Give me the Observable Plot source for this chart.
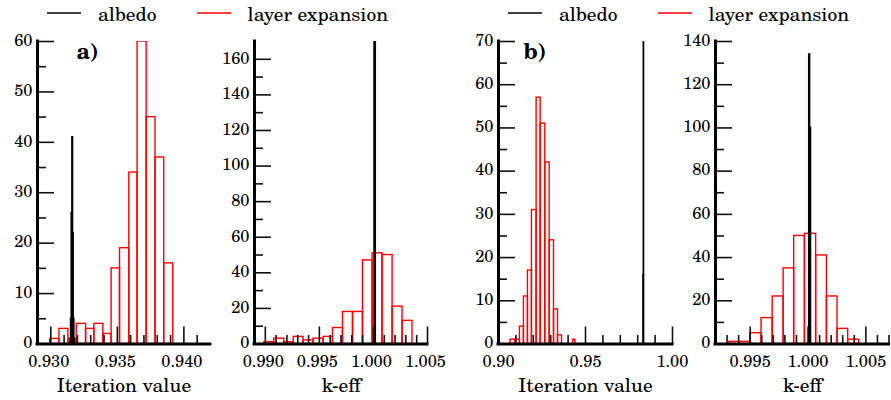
<!DOCTYPE html>
<html>
<head>
<meta charset="utf-8">
<script src="https://cdn.jsdelivr.net/npm/d3@7"></script>
<script src="https://cdn.jsdelivr.net/npm/@observablehq/plot@0.6"></script>
<style>
  body { margin: 0; background: #fff; }
  #chart { position: relative; width: 891px; height: 400px;
           font-family: "C059", "Century Schoolbook L", "TeX Gyre Schola", "DejaVu Serif", serif; color: #000; }
  .panel { position: absolute; top: 28px; }
  .legend { position: absolute; top: 3px; height: 20px; display: flex; align-items: center;
            font-size: 19.5px; line-height: 20px; white-space: nowrap; }
  .legend svg { display: block; margin-right: 17px; }
  .legend .name { margin-right: 40px; }
</style>
</head>
<body>
<div id="chart"></div>
<script>
// Series shown in both legends
const seriesNames = ["albedo", "layer expansion"];
const seriesColors = ["#000", "#f00"];

// ---- Panel a) : iteration value histogram ----
const a1LayerEdges = [0.92995, 0.93065, 0.93132, 0.93195, 0.93265, 0.93327, 0.93395, 0.93457,
                      0.93520, 0.93590, 0.93652, 0.93720, 0.93787, 0.93852, 0.93920];
const a1LayerCounts = [1, 3, 1, 4, 3, 4, 2, 15, 19, 34, 60, 45, 37, 16];
const a1AlbedoEdges = [0.93147, 0.93152, 0.93157, 0.93162, 0.93167, 0.93172, 0.93177, 0.93182];
const a1AlbedoCounts = [1, 5, 26, 41, 22, 5, 1];
const a1XMajor = [0.930, 0.935, 0.940];
const a1XMinor = [0.929, 0.931, 0.932, 0.933, 0.934, 0.936, 0.937, 0.938, 0.939, 0.941];
const a1YMajor = [0, 10, 20, 30, 40, 50, 60];
const a1YMinor = [5, 15, 25, 35, 45, 55];

// ---- Panel a) : k-eff histogram ----
const a2LayerEdges = [0.98991, 0.99083, 0.99176, 0.99262, 0.99354, 0.99446, 0.99539, 0.99626,
                      0.99718, 0.99811, 0.99903, 0.99992, 1.00084, 1.00177, 1.00269, 1.00361];
const a2LayerCounts = [1, 3, 1, 4, 2, 3, 4, 9, 18, 18, 47, 51, 50, 21, 13];
const a2AlbedoEdges = [1.00010, 1.00022];
const a2AlbedoCounts = [250];
const a2XMajor = [0.990, 0.995, 1.000, 1.005];
const a2XMinor = [0.989, 0.991, 0.992, 0.993, 0.994, 0.996, 0.997, 0.998, 0.999,
                  1.001, 1.002, 1.003, 1.004];
const a2YMajor = [0, 20, 40, 60, 80, 100, 120, 140, 160];
const a2YMinor = [10, 30, 50, 70, 90, 110, 130, 150];

// ---- Panel b) : iteration value histogram ----
const b1LayerEdges = [0.90692, 0.90980, 0.91230, 0.91460, 0.91691, 0.91921, 0.92190, 0.92421,
                      0.92690, 0.92940, 0.93190, 0.93420, 0.93650, 0.94300, 0.94420];
const b1LayerCounts = [1, 1, 4, 11, 17, 31, 57, 51, 42, 24, 8, 2, 0, 1];
const b1AlbedoEdges = [0.98335, 0.98350, 0.98365];
const b1AlbedoCounts = [16, 234];
const b1XMajor = [0.90, 0.95, 1.00];
const b1XMinor = [0.91, 0.92, 0.93, 0.94, 0.96, 0.97, 0.98, 0.99];
const b1YMajor = [0, 10, 20, 30, 40, 50, 60, 70];
const b1YMinor = [5, 15, 25, 35, 45, 55, 65];

// ---- Panel b) : k-eff histogram ----
const b2LayerEdges = [0.99318, 0.99411, 0.99500, 0.99598, 0.99694, 0.99789, 0.99880,
                      0.99973, 1.00070, 1.00163, 1.00255, 1.00347, 1.00442];
const b2LayerCounts = [1, 1, 5, 12, 22, 35, 50, 51, 41, 22, 7, 2];
const b2AlbedoEdges = [1.00010, 1.00018, 1.00026];
const b2AlbedoCounts = [134, 100];
const b2XMajor = [0.995, 1.000, 1.005];
const b2XMinor = [0.993, 0.994, 0.996, 0.997, 0.998, 0.999, 1.001, 1.002, 1.003, 1.004, 1.006, 1.007];
const b2YMajor = [0, 20, 40, 60, 80, 100, 120, 140];
const b2YMinor = [10, 30, 50, 70, 90, 110, 130];

const FONT = '"C059", "Century Schoolbook L", "TeX Gyre Schola", "DejaVu Serif", serif';
const chart = document.getElementById("chart");

function bins(edges, counts) {
  return counts.map((n, i) => ({x1: edges[i], x2: edges[i + 1], n}));
}

function panel(o) {
  const height = 372, mt = 13, mb = 56.5;
  const fw = o.width - o.ml - o.mr, fh = height - mt - mb;
  const tick = {stroke: "#111", strokeWidth: 1.6};
  const fmt = d3.format(o.xFormat);
  const svg = Plot.plot({
    width: o.width, height,
    marginLeft: o.ml, marginRight: o.mr, marginTop: mt, marginBottom: mb,
    x: {domain: o.xDomain, axis: null},
    y: {domain: o.yDomain, axis: null},
    style: {fontFamily: FONT, fontSize: "16.5px", background: "transparent", overflow: "visible", color: "#000"},
    marks: [
      Plot.rectY(bins(o.layerEdges, o.layerCounts),
        {x1: "x1", x2: "x2", y1: 0, y2: "n", fill: "none", stroke: seriesColors[1], strokeWidth: 1.4, clip: true}),
      Plot.rectY(bins(o.albedoEdges, o.albedoCounts),
        {x1: "x1", x2: "x2", y1: 0, y2: "n", fill: "none", stroke: seriesColors[0], strokeWidth: 1.5, clip: true}),
      // inward tick marks
      Plot.ruleX(o.xMinor, {x: d => d, insetTop: fh - 8.5, ...tick}),
      Plot.ruleX(o.xMajor, {x: d => d, insetTop: fh - 17, ...tick}),
      Plot.ruleY(o.yMinor, {y: d => d, insetRight: fw - 9, ...tick}),
      Plot.ruleY(o.yMajor, {y: d => d, insetRight: fw - 17, ...tick}),
      // axis lines
      Plot.ruleY([o.yDomain[0]], {stroke: "#000", strokeWidth: 3, strokeLinecap: "square"}),
      Plot.ruleX([o.xDomain[0]], {stroke: "#000", strokeWidth: 3, strokeLinecap: "square"}),
      // tick labels
      Plot.text(o.xMajor, {x: d => d, text: d => fmt(d), frameAnchor: "bottom", lineAnchor: "top",
                           dx: o.labelDx || 0, dy: 11.5, fontSize: 16.5, fill: "#000"}),
      Plot.text(o.yMajor, {y: d => d, text: d => String(d), frameAnchor: "left", textAnchor: "end",
                           dx: -5, dy: -1, fontSize: 16.5, fill: "#000"}),
      // axis title
      Plot.text([o.title], {frameAnchor: "bottom", lineAnchor: "bottom", dy: 47.8, fontSize: 19.5, fill: "#000"}),
      // panel tag
      o.tag ? Plot.text([o.tag], {frameAnchor: "top-left", textAnchor: "start", lineAnchor: "top", dx: o.tagDx, dy: 2,
                                  fontSize: 22, fontWeight: "bold", fill: "#000"}) : null
    ]
  });
  const div = document.createElement("div");
  div.className = "panel";
  div.style.left = o.left + "px";
  div.appendChild(svg);
  chart.appendChild(div);
}

function legend(left) {
  const ns = "http://www.w3.org/2000/svg";
  const div = document.createElement("div");
  div.className = "legend";
  div.style.left = left + "px";
  seriesNames.forEach((name, i) => {
    const sw = document.createElementNS(ns, "svg");
    sw.setAttribute("width", 34);
    sw.setAttribute("height", 20);
    const line = document.createElementNS(ns, "line");
    line.setAttribute("x1", 0); line.setAttribute("x2", 34);
    line.setAttribute("y1", 10); line.setAttribute("y2", 10);
    line.setAttribute("stroke", seriesColors[i]);
    line.setAttribute("stroke-width", 1.6);
    sw.appendChild(line);
    const label = document.createElement("span");
    label.className = "name";
    label.textContent = name;
    div.appendChild(sw);
    div.appendChild(label);
  });
  chart.appendChild(div);
}

legend(47);
legend(508);

panel({left: 0, width: 215, ml: 37, mr: 5, xDomain: [0.929, 0.942], yDomain: [0, 60],
       xMajor: a1XMajor, xMinor: a1XMinor, yMajor: a1YMajor, yMinor: a1YMinor, xFormat: ".3f", labelDx: -2,
       layerEdges: a1LayerEdges, layerCounts: a1LayerCounts, albedoEdges: a1AlbedoEdges, albedoCounts: a1AlbedoCounts,
       title: "Iteration value", tag: "a)", tagDx: 39});
panel({left: 215, width: 230, ml: 39, mr: 18, xDomain: [0.989, 1.005], yDomain: [0, 170],
       xMajor: a2XMajor, xMinor: a2XMinor, yMajor: a2YMajor, yMinor: a2YMinor, xFormat: ".3f", labelDx: -2,
       layerEdges: a2LayerEdges, layerCounts: a2LayerCounts, albedoEdges: a2AlbedoEdges, albedoCounts: a2AlbedoCounts,
       title: "k-eff"});
panel({left: 445, width: 235, ml: 53, mr: 8, xDomain: [0.90, 1.00], yDomain: [0, 70],
       xMajor: b1XMajor, xMinor: b1XMinor, yMajor: b1YMajor, yMinor: b1YMinor, xFormat: ".2f",
       layerEdges: b1LayerEdges, layerCounts: b1LayerCounts, albedoEdges: b1AlbedoEdges, albedoCounts: b1AlbedoCounts,
       title: "Iteration value", tag: "b)", tagDx: 25});
panel({left: 680, width: 211, ml: 35, mr: 2.5, xDomain: [0.992, 1.007], yDomain: [0, 140],
       xMajor: b2XMajor, xMinor: b2XMinor, yMajor: b2YMajor, yMinor: b2YMinor, xFormat: ".3f",
       layerEdges: b2LayerEdges, layerCounts: b2LayerCounts, albedoEdges: b2AlbedoEdges, albedoCounts: b2AlbedoCounts,
       title: "k-eff"});
</script>
</body>
</html>
